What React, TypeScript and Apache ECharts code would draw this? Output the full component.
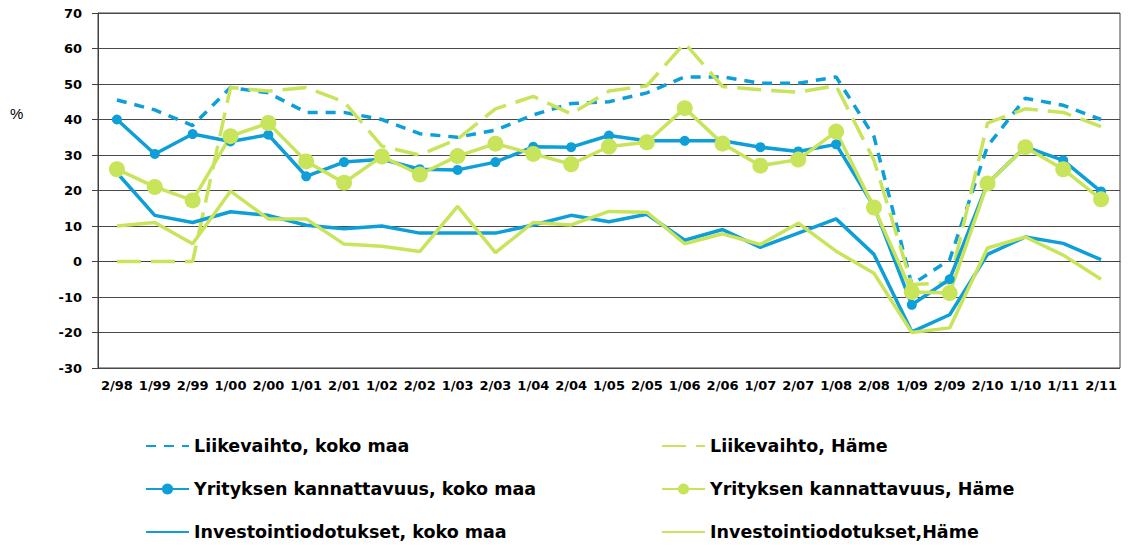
import React, { useEffect, useRef } from "react";
import * as echarts from "echarts";

const categories = ["2/98","1/99","2/99","1/00","2/00","1/01","2/01","1/02","2/02","1/03","2/03","1/04","2/04","1/05","2/05","1/06","2/06","1/07","2/07","1/08","2/08","1/09","2/09","2/10","1/10","1/11","2/11"];

const liikevaihtoKokoMaa = [45.5, 42.7, 38.3, 49, 47.5, 42, 42, 40, 36, 35, 37, 41.3, 44.5, 45, 47.5, 52, 52, 50.2, 50.2, 52, 35.2, -6.5, 0.5, 32.5, 46, 44, 40];
const liikevaihtoHame = [0, 0, 0, 49, 48, 49, 45, 32.5, 30, 34.5, 43, 46.5, 41.6, 48, 49.5, 61.5, 49.3, 48.4, 47.7, 49.5, 28.5, -6.5, -6, 39, 43, 42, 38];
const kannattavuusKokoMaa = [40, 30.3, 35.9, 33.8, 35.7, 24, 28, 28.8, 26, 25.8, 28, 32.3, 32.2, 35.5, 34, 34, 34, 32.2, 31, 33, 15.5, -12.2, -5, 22, 32.3, 28.5, 19.7];
const kannattavuusHame = [26, 21, 17.2, 35.3, 39, 28.2, 22.2, 29.6, 24.5, 29.7, 33.2, 30.3, 27.4, 32.4, 33.6, 43.2, 33.2, 27, 28.7, 36.6, 15.2, -8.6, -8.9, 22, 32.2, 26, 17.5];
const investKokoMaa = [25, 13, 11, 14, 13, 10.2, 9.2, 10, 8, 8, 8, 10.3, 13, 11.2, 13.3, 6, 9, 4, 8, 12, 2, -19.8, -15, 2, 6.9, 5.1, 0.5];
const investHame = [10, 11, 5, 19.8, 12, 12, 4.9, 4.3, 2.8, 15.5, 2.5, 11, 10.3, 14.1, 13.9, 5, 7.8, 4.8, 10.8, 2.9, -3.3, -20, -18.7, 3.8, 6.9, 1.8, -5];

const seriesNames = [
  "Liikevaihto, koko maa",
  "Liikevaihto, Häme",
  "Yrityksen kannattavuus, koko maa",
  "Yrityksen kannattavuus, Häme",
  "Investointiodotukset, koko maa",
  "Investointiodotukset,Häme",
];

const BLUE = "#0E9FD9";
const GREEN = "#C8E45B";
const FONT = "DejaVu Sans";

export default function App() {
  const ref = useRef<HTMLDivElement>(null);
  useEffect(() => {
    if (!ref.current) return;
    const chart = echarts.init(ref.current, undefined, { renderer: "svg" });
    const line = (name: string, data: number[], color: string, dash: any, sym: number) => ({
      name,
      type: "line",
      data,
      symbol: sym > 0 ? "circle" : "none",
      symbolSize: sym,
      showSymbol: sym > 0,
      itemStyle: { color, opacity: sym > 0 ? 1 : 0 },
      lineStyle: { color, width: 3.5, type: dash, opacity: 1 },
      emphasis: { disabled: true },
    });
    const legendBase = {
      orient: "vertical",
      top: 436,
      height: 108,
      padding: 0,
      itemWidth: 43,
      itemHeight: 14,
      itemGap: 23,
      textStyle: { fontFamily: FONT, fontWeight: "bold", fontSize: 17.5, color: "#000", lineHeight: 20 },
    };
    const item = (name: string, marker: boolean) => ({ name, itemStyle: { opacity: marker ? 1 : 0 } });
    chart.setOption({
      animation: false,
      grid: { left: 98, right: 11, top: 13, bottom: 179, show: true, borderColor: "#404040", borderWidth: 1 },
      xAxis: {
        type: "category",
        data: categories,
        boundaryGap: true,
        axisLine: { lineStyle: { color: "#404040", width: 1 } },
        axisTick: { show: false },
        axisLabel: { interval: 0, margin: 11, color: "#000", fontFamily: FONT, fontWeight: "bold", fontSize: 13 },
        splitLine: { show: false },
      },
      yAxis: {
        type: "value",
        min: -30,
        max: 70,
        interval: 10,
        axisLine: { show: true, lineStyle: { color: "#404040", width: 1 } },
        axisTick: { show: true, length: 6, lineStyle: { color: "#404040" } },
        axisLabel: { margin: 16, color: "#000", fontFamily: FONT, fontWeight: "bold", fontSize: 13 },
        splitLine: { lineStyle: { color: "#4a4a4a", width: 1 } },
      },
      legend: [
        { ...legendBase, left: 145, data: [item(seriesNames[0], false), item(seriesNames[2], true), item(seriesNames[4], false)] },
        { ...legendBase, left: 661, data: [item(seriesNames[1], false), item(seriesNames[3], true), item(seriesNames[5], false)] },
      ],
      graphic: [
        { type: "text", left: 10, top: 106, style: { text: "%", fontFamily: "Liberation Sans", fontSize: 15, fill: "#000" } },
      ],
      series: [
        line(seriesNames[0], liikevaihtoKokoMaa, BLUE, [10, 8], 0),
        line(seriesNames[1], liikevaihtoHame, GREEN, [24, 10], 0),
        line(seriesNames[4], investKokoMaa, BLUE, "solid", 0),
        line(seriesNames[5], investHame, GREEN, "solid", 0),
        line(seriesNames[2], kannattavuusKokoMaa, BLUE, "solid", 10),
        line(seriesNames[3], kannattavuusHame, GREEN, "solid", 16),
      ],
    });
    return () => chart.dispose();
  }, []);
  return <div ref={ref} style={{ position: "fixed", left: 0, top: 0, width: 1131, height: 547, background: "#fff" }} />;
}
